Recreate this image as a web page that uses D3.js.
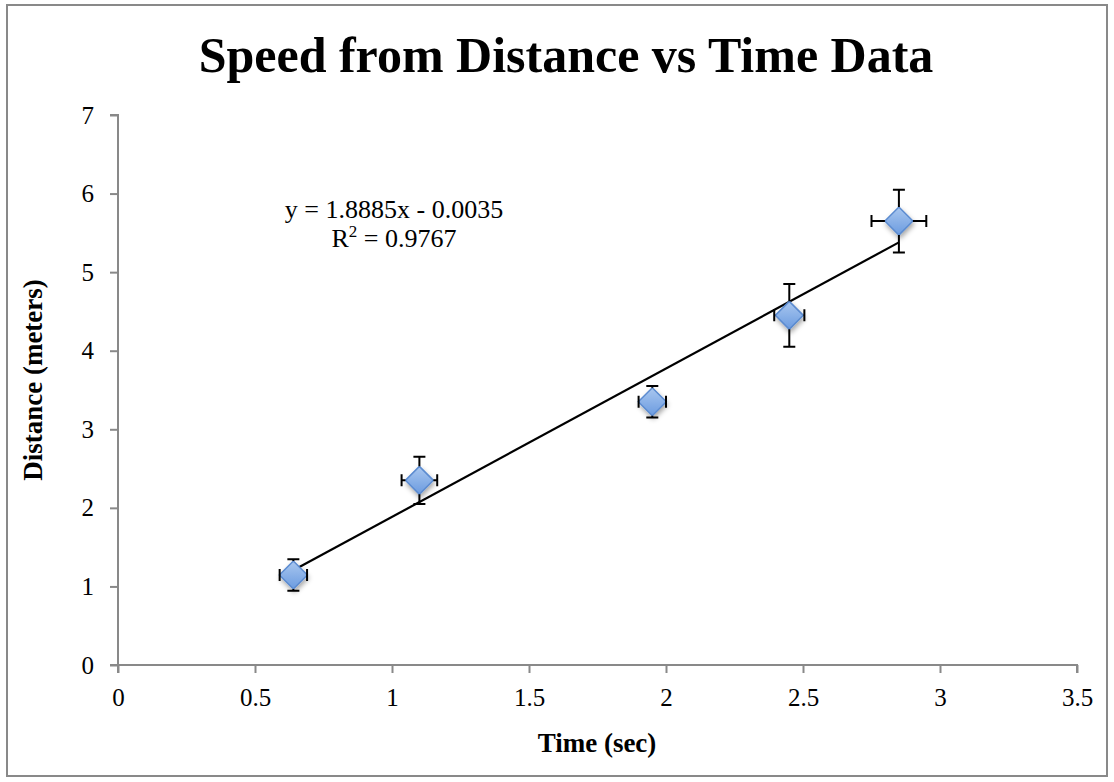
<!DOCTYPE html>
<html>
<head>
<meta charset="utf-8">
<script src="https://cdn.jsdelivr.net/npm/d3@7"></script>
<style>
  body { margin: 0; background: #fff; }
  text { font-family: "Liberation Serif", "DejaVu Serif", serif; fill: #000; }
</style>
</head>
<body>
<svg id="chart" width="1114" height="782"></svg>
<script>
// data
const times = [0.64, 1.1, 1.95, 2.45, 2.85]
const distances = [1.145, 2.35, 3.35, 4.45, 5.65]
const timeErrors = [0.05, 0.065, 0.05, 0.055, 0.1]
const distanceErrors = [0.2, 0.3, 0.2, 0.4, 0.4]
const xTicks = [0, 0.5, 1, 1.5, 2, 2.5, 3, 3.5]
const yTicks = [0, 1, 2, 3, 4, 5, 6, 7]
const slope = 1.8885
const intercept = -0.0035
const rSquared = 0.9767

const points = times.map((t, i) => ({ x: t, y: distances[i], ex: timeErrors[i], ey: distanceErrors[i] }))

const svg = d3.select('#chart')
const axisColor = '#898989'

// outer frame
svg.append('rect')
  .attr('x', 7).attr('y', 5)
  .attr('width', 1100).attr('height', 771)
  .attr('fill', '#fff')
  .attr('stroke', axisColor)
  .attr('stroke-width', 2)

const x = d3.scaleLinear().domain([0, 3.5]).range([118, 1077])
const y = d3.scaleLinear().domain([0, 7]).range([665, 115])

// gradient + shadow for the diamond markers
const defs = svg.append('defs')
const grad = defs.append('linearGradient').attr('id', 'markerFill')
  .attr('x1', 0).attr('y1', 0).attr('x2', 0).attr('y2', 1)
grad.append('stop').attr('offset', '0%').attr('stop-color', '#a9c7ef')
grad.append('stop').attr('offset', '100%').attr('stop-color', '#6b9be0')
const shadow = defs.append('filter').attr('id', 'shadow')
  .attr('x', '-50%').attr('y', '-50%').attr('width', '200%').attr('height', '200%')
shadow.append('feDropShadow')
  .attr('dx', 1).attr('dy', 3).attr('stdDeviation', 2.5)
  .attr('flood-color', '#000').attr('flood-opacity', 0.35)

// axes
const xAxis = svg.append('g')
  .attr('transform', `translate(0, ${y(0)})`)
  .call(d3.axisBottom(x).tickValues(xTicks).tickSize(8).tickPadding(15).tickFormat(d3.format('')))
const yAxis = svg.append('g')
  .attr('transform', `translate(${x(0)}, 0)`)
  .call(d3.axisLeft(y).tickValues(yTicks).tickSize(8).tickPadding(16).tickFormat(d3.format('')))

;[xAxis, yAxis].forEach(ax => {
  ax.select('.domain').attr('stroke', axisColor).attr('stroke-width', 2)
  ax.selectAll('.tick line').attr('stroke', axisColor).attr('stroke-width', 2)
  ax.selectAll('.tick text')
    .attr('font-size', 25)
    .attr('font-family', '"Liberation Serif", serif')
    .attr('fill', '#000')
})
xAxis.select('.domain').attr('d', `M${x(0)},8V0H${x(3.5)}V8`)
yAxis.select('.domain').attr('d', `M-8,${y(7)}H0V${y(0)}H-8`)

// trendline
const xMin = d3.min(times)
const xMax = d3.max(times)
svg.append('line')
  .attr('x1', x(xMin)).attr('y1', y(slope * xMin + intercept))
  .attr('x2', x(xMax)).attr('y2', y(slope * xMax + intercept))
  .attr('stroke', '#000')
  .attr('stroke-width', 2.2)

// markers
const capHalf = 6
const marks = svg.append('g').selectAll('g').data(points).join('g')

marks.append('path')
  .attr('d', d => {
    const r = 14
    const cx = x(d.x)
    const cy = y(d.y)
    return `M${cx},${cy - r}L${cx + r},${cy}L${cx},${cy + r}L${cx - r},${cy}Z`
  })
  .attr('fill', 'url(#markerFill)')
  .attr('stroke', '#5b8bd0')
  .attr('stroke-width', 1.5)
  .attr('filter', 'url(#shadow)')

// error bars drawn over the markers
const bars = svg.append('g').attr('stroke', '#000').attr('stroke-width', 2)
points.forEach(d => {
  const cx = x(d.x)
  const cy = y(d.y)
  const top = y(d.y + d.ey)
  const bottom = y(d.y - d.ey)
  const left = x(d.x - d.ex)
  const right = x(d.x + d.ex)
  bars.append('path')
    .attr('fill', 'none')
    .attr('d', [
      `M${cx},${top}V${cy - 14}`, `M${cx},${cy + 14}V${bottom}`,
      `M${cx - capHalf},${top}H${cx + capHalf}`, `M${cx - capHalf},${bottom}H${cx + capHalf}`,
      `M${left},${cy}H${cx - 14}`, `M${cx + 14},${cy}H${right}`,
      `M${left},${cy - capHalf}V${cy + capHalf}`, `M${right},${cy - capHalf}V${cy + capHalf}`
    ].join(''))
})

// title
svg.append('text')
  .attr('x', 566).attr('y', 72)
  .attr('text-anchor', 'middle')
  .attr('font-size', 50)
  .attr('font-weight', 'bold')
  .text('Speed from Distance vs Time Data')

// axis titles
svg.append('text')
  .attr('x', 597).attr('y', 752)
  .attr('text-anchor', 'middle')
  .attr('font-size', 27)
  .attr('font-weight', 'bold')
  .text('Time (sec)')

svg.append('text')
  .attr('transform', 'translate(42, 380) rotate(-90)')
  .attr('text-anchor', 'middle')
  .attr('font-size', 27)
  .attr('font-weight', 'bold')
  .text('Distance (meters)')

// regression equation
const eq = svg.append('g').attr('font-size', 26)
eq.append('text')
  .attr('x', 394).attr('y', 218)
  .attr('text-anchor', 'middle')
  .text(`y = ${slope}x - ${Math.abs(intercept).toFixed(4)}`)
const r2 = eq.append('text')
  .attr('x', 394).attr('y', 247)
  .attr('text-anchor', 'middle')
r2.append('tspan').text('R')
r2.append('tspan').attr('font-size', 17).attr('dy', -10).text('2')
r2.append('tspan').attr('dy', 10).text(` = ${rSquared}`)
</script>
</body>
</html>
